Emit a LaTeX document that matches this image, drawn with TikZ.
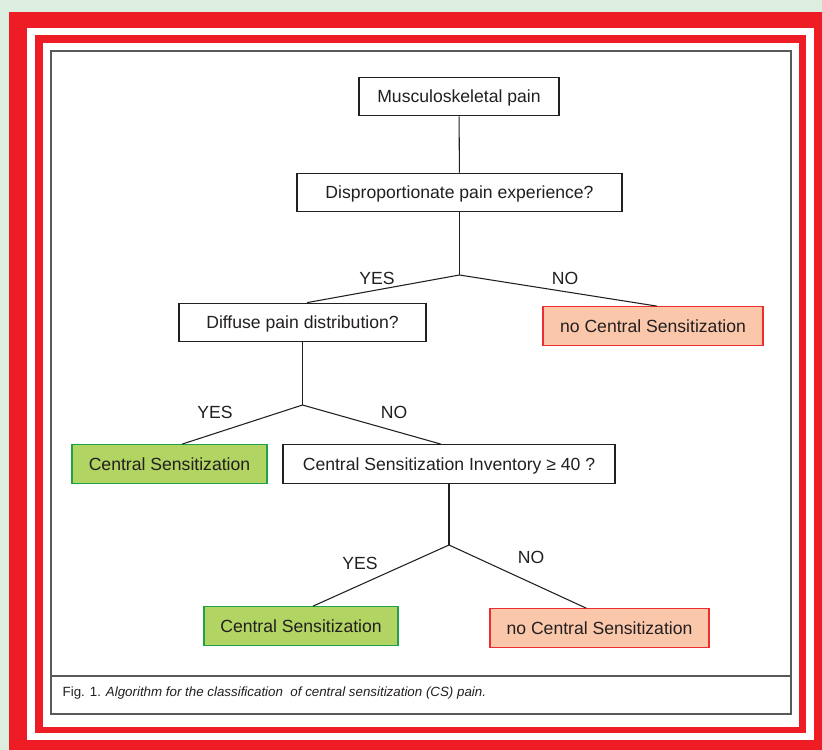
\documentclass[tikz,border=0pt]{standalone}
\usepackage{fontspec}
\setmainfont{Liberation Sans}
\usetikzlibrary{calc}
\definecolor{ink}{HTML}{231F20}
\definecolor{mint}{HTML}{DCEEDF}
\definecolor{frame}{HTML}{EE1C25}
\definecolor{leaf}{HTML}{B1D462}
\definecolor{leafline}{HTML}{1FA24A}
\definecolor{peach}{HTML}{FAC7AB}
\definecolor{peachline}{HTML}{EE2D2F}
\tikzset{qbox/.style={draw=ink,line width=0.8pt,fill=white,text=ink,minimum height=29pt,inner sep=0pt,text depth=0pt}, yesbox/.style={qbox,draw=leafline,fill=leaf}, nobox/.style={qbox,draw=peachline,fill=peach}, lnk/.style={draw=ink,line width=0.8pt}, lbl/.style={text=ink,inner sep=0pt}}

\begin{document}
\begin{tikzpicture}[x=0.75pt,y=-0.75pt,font=\fontsize{13.2}{15}\selectfont]
\useasboundingbox (0,0) rectangle (822,750);\clip (0,0) rectangle (822,750);
\fill[mint] (0,0) rectangle (822,750);\fill[frame] (9,12) rectangle (830,760);
\fill[white] (27,28) rectangle (814,740);\fill[frame] (35,35) rectangle (806,733);
\fill[white] (43,43) rectangle (799,727);
\draw[black!65,line width=1.1pt] (51,51) rectangle (791,714);\draw[black!65,line width=1.1pt] (51,676) -- (791,676);
\node[qbox,minimum width=150pt](pain) at (459,96.5){Musculoskeletal pain};
\node[qbox,minimum width=243.75pt](disp) at (459.5,192.5){Disproportionate pain experience?};
\node[qbox,minimum width=185.25pt](diff) at (302.5,322.5){Diffuse pain distribution?};
\node[nobox,minimum width=165pt](noa) at (653,326){no Central Sensitization};
\node[yesbox,minimum width=146.25pt](yesa) at (169.5,464){Central Sensitization};
\node[qbox,minimum width=249pt](csi) at (449,464){Central Sensitization Inventory ≥ 40 ?};
\node[yesbox,minimum width=145.5pt](yesb) at (301,626){Central Sensitization};
\node[nobox,minimum width=164.25pt](nob) at (599.5,628){no Central Sensitization};
\coordinate (ba) at (disp.south |- 0,275);\coordinate (bb) at (diff.south |- 0,405);\coordinate (bc) at (csi.south |- 0,545);
\draw[lnk](pain)--(disp);\draw[lnk](disp.south)--(ba);
\draw[lnk](ba)--([xshift=3.4pt]diff.north);\draw[lnk](ba)--([xshift=3pt]noa.north);
\draw[lnk](diff.south)--(bb);
\draw[lnk](bb)--([xshift=9.4pt]yesa.north);\draw[lnk](bb)--([xshift=-6pt]csi.north);
\draw[lnk](csi.south)--(bc);
\draw[lnk](bc)--([xshift=9pt]yesb.north);\draw[lnk](bc)--([xshift=-10pt]nob.north);
\node[lbl] at (377,278){YES};\node[lbl] at (565,278){NO};
\node[lbl] at (215,412){YES};\node[lbl] at (394,412){NO};
\node[lbl] at (360,563){YES};\node[lbl] at (531,557){NO};
\node[anchor=west,text=ink,font=\fontsize{10}{12}\selectfont](cap) at (58,693){Fig. 1. \textit{Algorithm for the classification\ \ of central sensitization (CS) pain.}};
\end{tikzpicture}
\end{document}
